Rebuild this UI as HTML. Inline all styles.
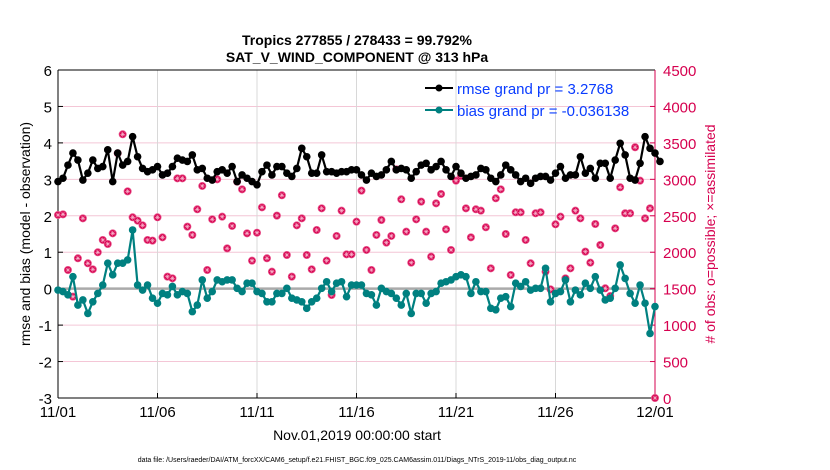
<!DOCTYPE html>
<html><head><meta charset="utf-8"><style>
body{margin:0;background:#fff;font-family:"Liberation Sans",sans-serif}
svg{display:block}
</style></head><body>
<svg id="chart" width="830" height="470" xmlns="http://www.w3.org/2000/svg">
<text x="357" y="45" text-anchor="middle" font-size="14" font-weight="bold">Tropics 277855 / 278433 = 99.792%</text>
<text x="357" y="62" text-anchor="middle" font-size="14" font-weight="bold">SAT_V_WIND_COMPONENT @ 313 hPa</text>
<g id="grid"></g>
<g id="axes"></g>
<g id="marks"></g>
<text transform="translate(30,234) rotate(-90)" text-anchor="middle" font-size="14">rmse and bias (model - observation)</text>
<text transform="translate(715,234) rotate(-90)" text-anchor="middle" font-size="14" fill="#d6004f"># of obs: o=possible; ×=assimilated</text>
<text x="357" y="440" text-anchor="middle" font-size="14">Nov.01,2019 00:00:00 start</text>
<text x="357" y="462" text-anchor="middle" font-size="7">data file: /Users/raeder/DAI/ATM_forcXX/CAM6_setup/f.e21.FHIST_BGC.f09_025.CAM6assim.011/Diags_NTrS_2019-11/obs_diag_output.nc</text>
<g>
<line x1="425" y1="88" x2="453" y2="88" stroke="#000" stroke-width="2"/>
<circle cx="439" cy="88" r="3.5" fill="#000"/>
<text x="457" y="94" font-size="15" fill="#0a3cff">rmse grand pr = 3.2768</text>
<line x1="425" y1="110" x2="453" y2="110" stroke="#008080" stroke-width="2"/>
<circle cx="439" cy="110" r="3.5" fill="#008080"/>
<text x="457" y="116" font-size="15" fill="#0a3cff">bias grand pr = -0.036138</text>
</g>
</svg>
<script>
const xTickLabels=["11/01","11/06","11/11","11/16","11/21","11/26","12/01"];
const xTickDays=[0,5,10,15,20,25,30];
const leftTicks=[-3,-2,-1,0,1,2,3,4,5,6];
const rightTicks=[0,500,1000,1500,2000,2500,3000,3500,4000,4500];
const rmse=[2.94,3.03,3.39,3.72,3.53,2.98,3.17,3.53,3.30,3.35,3.81,2.94,3.72,3.39,3.49,4.17,3.62,3.30,3.21,3.26,3.35,3.12,3.17,3.35,3.58,3.53,3.49,3.67,3.26,3.30,3.03,2.98,3.21,3.26,3.17,3.35,2.94,3.12,3.03,2.94,2.85,3.21,3.39,3.12,3.35,3.35,3.17,3.08,3.30,3.85,3.62,3.17,3.17,3.67,3.21,3.21,3.17,3.21,3.21,3.26,
3.26,3.12,2.98,3.17,3.08,3.12,3.26,3.49,3.26,3.30,3.26,3.03,3.21,3.39,3.44,3.26,3.35,3.49,3.26,3.08,3.35,3.17,3.03,3.08,3.12,3.30,3.26,3.03,2.94,3.12,3.39,3.26,3.12,2.94,3.03,2.89,3.03,3.08,3.08,2.98,3.17,3.35,3.03,3.12,3.12,3.62,3.17,3.30,3.03,3.44,3.44,3.03,3.53,3.99,3.67,3.03,2.98,3.44,4.17,3.85,3.72,3.49];
const bias=[-0.04,-0.08,-0.17,0.33,-0.45,-0.31,-0.68,-0.36,-0.13,0.10,0.70,0.38,0.70,0.70,0.79,1.61,0.10,-0.04,0.10,-0.26,-0.40,-0.13,-0.17,0.06,-0.17,-0.08,-0.13,-0.63,-0.45,0.24,-0.26,-0.08,0.24,0.19,0.24,0.24,0.01,-0.08,0.15,0.15,-0.08,-0.13,-0.36,-0.36,-0.13,-0.13,0.01,-0.26,-0.31,-0.36,-0.54,-0.36,-0.26,0.01,0.19,-0.08,0.15,0.19,-0.22,0.10,
0.10,0.10,-0.13,-0.17,-0.45,0.01,-0.08,-0.13,-0.26,-0.45,-0.13,-0.68,-0.13,-0.13,-0.40,-0.13,-0.08,0.15,0.19,0.24,0.33,0.38,0.33,-0.13,0.19,-0.08,-0.08,-0.54,-0.58,-0.26,-0.22,-0.49,0.15,0.06,0.19,-0.04,0.01,0.01,0.56,-0.36,-0.13,-0.08,0.24,-0.36,-0.04,-0.17,0.15,0.01,0.33,-0.04,-0.31,-0.26,0.01,0.65,0.28,-0.13,-0.40,0.10,-0.40,-1.23,-0.49];
const nobs=[2511,2520,1756,1390,1917,2465,1848,1765,1999,2168,2113,2259,3357,3618,2835,2479,2433,2369,2168,2159,2479,2204,1665,1642,3014,3014,2351,2237,2589,2909,1756,2451,3000,2488,2053,2360,2968,2863,2259,1884,2268,2616,1917,1733,2502,2781,1962,1665,2369,2465,1962,1765,2305,2602,1884,1413,2223,2570,1971,1971,
2419,2845,2031,1756,2237,2442,2131,2223,3137,2726,2282,1857,2451,2694,2282,1939,2671,2799,2314,2031,2982,3046,2602,2204,2589,2570,2342,1779,2740,2863,2250,1688,2548,2548,2168,1848,2534,2548,1733,1491,2383,2488,1642,1779,2570,2465,2008,1857,2387,2099,1505,1399,2328,2891,2534,2534,3440,2982,2465,2602,0];
const dtDays=0.25;
const X0=58,X1=655,Y0=70,Y1=398;
const xs=d=>X0+(X1-X0)*d/30;
const yl=v=>Y0+(6-v)*(Y1-Y0)/9;
const yr=v=>Y1-v*(Y1-Y0)/4500;
const NS="http://www.w3.org/2000/svg";
function mk(parent,tag,attrs){const e=document.createElementNS(NS,tag);for(const k in attrs)e.setAttribute(k,attrs[k]);parent.appendChild(e);return e;}
const grid=document.getElementById('grid'),axes=document.getElementById('axes'),marks=document.getElementById('marks');
leftTicks.forEach(v=>{
  const g=mk(grid,'line',{x1:X0,x2:X1,y1:yl(v),y2:yl(v),stroke:'#f4c6d6','stroke-width':1});
  
  
  const t=mk(axes,'text',{x:X0-6,y:yl(v)+6,'text-anchor':'end','font-size':15});
  t.textContent=v;
  
  
  mk(axes,'line',{x1:X0,x2:X0+5,y1:yl(v),y2:yl(v),stroke:'#000'});
});
xTickDays.forEach((d,i)=>{
  const g=mk(grid,'line',{x1:xs(d),x2:xs(d),y1:Y0,y2:Y1,stroke:'#d8d8d8','stroke-width':1});
  
  
  const t=mk(axes,'text',{x:xs(d),y:Y1+19,'text-anchor':'middle','font-size':15});
  t.textContent=xTickLabels[i];
  
  
  mk(axes,'line',{x1:xs(d),x2:xs(d),y1:Y1,y2:Y1-5,stroke:'#000'});
});
rightTicks.forEach(v=>{
  const t=mk(axes,'text',{x:X1+8,y:yr(v)+6,'font-size':15,fill:'#d6004f'});
  t.textContent=v;
  
  
  mk(axes,'line',{x1:X1,x2:X1-5,y1:yr(v),y2:yr(v),stroke:'#d6004f'});
});
const zl=mk(grid,'line',{x1:X0,x2:X1,y1:yl(0),y2:yl(0),stroke:'#aaa','stroke-width':2.5});


mk(axes,'line',{x1:X0,x2:X0,y1:Y0,y2:Y1,stroke:'#000'});
mk(axes,'line',{x1:X0,x2:X1,y1:Y1,y2:Y1,stroke:'#000'});
mk(axes,'line',{x1:X0,x2:X1,y1:Y0,y2:Y0,stroke:'#000'});
mk(axes,'line',{x1:X1,x2:X1,y1:Y0,y2:Y1,stroke:'#d6004f'});
nobs.forEach((v,i)=>{
  const x=xs(i*dtDays),y=yr(v);
  const g=mk(marks,'g',{});
  
  
  mk(g,'circle',{cx:x,cy:y,r:3.6,fill:'#d6004f',stroke:'#e8528a','stroke-width':0.8});
  mk(g,'path',{d:`M${x-2.4} ${y}H${x+2.4}M${x} ${y-2.4}V${y+2.4}M${x-1.7} ${y-1.7}L${x+1.7} ${y+1.7}M${x-1.7} ${y+1.7}L${x+1.7} ${y-1.7}`,stroke:'#f7b5cc','stroke-width':0.6});
});
function series(arr,color,name){
  const pts=arr.map((v,i)=>xs(i*dtDays)+','+yl(v)).join(' ');
  const pl=mk(marks,'polyline',{points:pts,fill:'none',stroke:color,'stroke-width':2.2,'stroke-linejoin':'round'});
  
  
  arr.forEach((v,i)=>{
    const c=mk(marks,'circle',{cx:xs(i*dtDays),cy:yl(v),r:3.8,fill:color});
    
    
  });
}
series(bias,'#008080','bias');
series(rmse,'#000','rmse');
</script>
</body></html>
